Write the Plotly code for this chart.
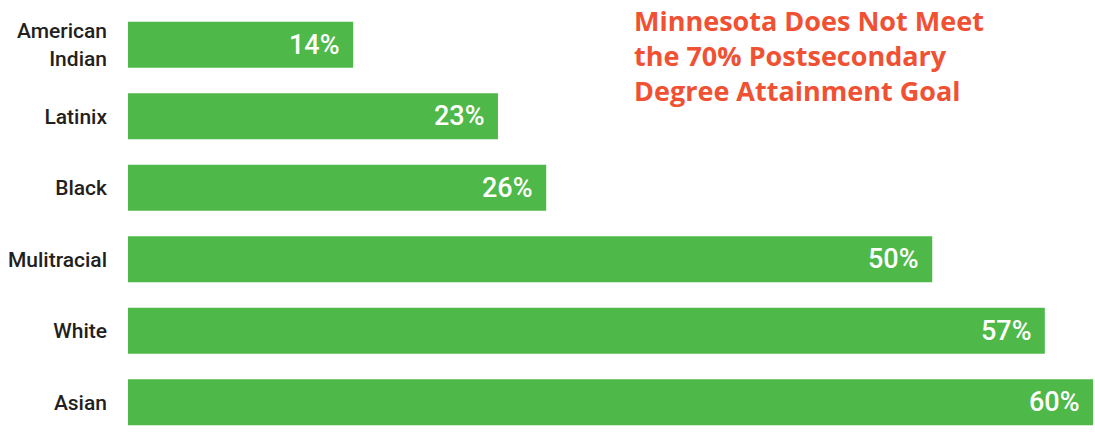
import plotly.graph_objects as go

categories = ["American<br>Indian", "Latinix", "Black", "Mulitracial", "White", "Asian"]
values = [14, 23, 26, 50, 57, 60]
value_labels = ["14%", "23%", "26%", "50%", "57%", "60%"]
title_lines = ["Minnesota Does Not Meet", "the 70% Postsecondary", "Degree Attainment Goal"]

GREEN = "#4EB848"
TITLE_COLOR = "#F05133"
COND = "Roboto, sans-serif"

fig = go.Figure(go.Bar(
    y=categories, x=values, orientation="h",
    marker=dict(color=GREEN, line=dict(width=0)),
    hoverinfo="skip",
))

for c, v, t in zip(categories, values, value_labels):
    fig.add_annotation(x=v, y=c, text=t, xref="x", yref="y",
                       xanchor="right", yanchor="middle", xshift=-11, showarrow=False,
                       font=dict(family=COND, size=27, color="white", weight=500))

fig.add_annotation(
    x=(632 - 128) / (1095 - 128), y=1.0 + 9 / 429,
    xref="paper", yref="paper", text="<br>".join(title_lines),
    showarrow=False, align="left", xanchor="left", yanchor="top",
    font=dict(family="Open Sans, Lato, sans-serif", size=27, color=TITLE_COLOR, weight="bold"),
)

fig.update_layout(
    width=1095, height=442,
    margin=dict(l=128, r=0, t=9, b=4),
    paper_bgcolor="white", plot_bgcolor="white",
    bargap=0.355,
    showlegend=False,
    xaxis=dict(range=[0, 60.12], visible=False, fixedrange=True, automargin=False),
    yaxis=dict(autorange="reversed", showgrid=False, zeroline=False, showline=False,
               ticks="", ticklabelstandoff=20, automargin=False, fixedrange=True,
               tickfont=dict(family=COND, size=21, color="#231F20", weight=500)),
)

fig.write_html(
    "out.html",
    config={"displayModeBar": False},
    post_script="document.body.style.margin='0';document.body.style.overflow='hidden';",
)
